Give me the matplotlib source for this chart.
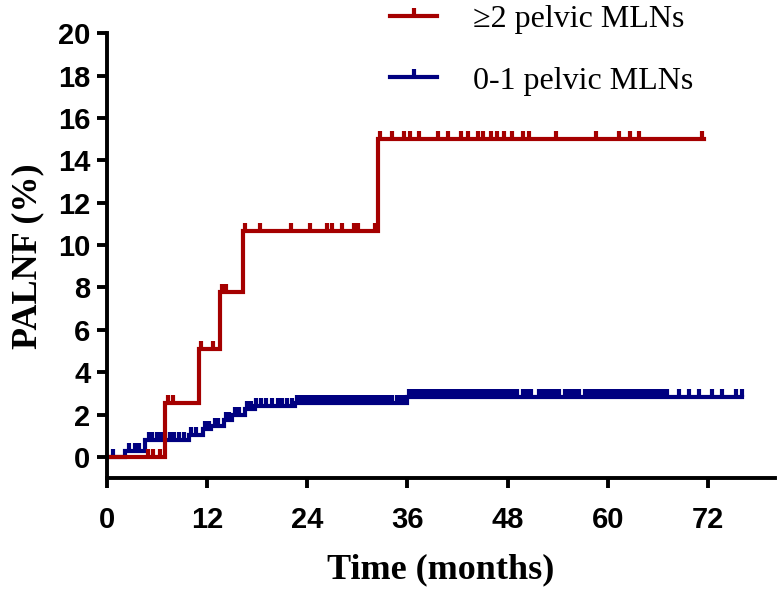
"""Cumulative PALNF by number of pelvic MLNs (step curves with censor ticks)."""
import matplotlib
matplotlib.use("Agg")
import matplotlib.pyplot as plt
from matplotlib.lines import Line2D
import numpy as np

# ---- data ----
red_label = "\u22652 pelvic MLNs"
red_times = [0, 7.0, 11.0, 13.5, 16.3, 32.5, 71.5]
red_levels = [0, 2.55, 5.1, 7.8, 10.65, 15.0, 15.0]
red_censor = [4.9, 5.5, 6.4, 7.3, 7.9, 11.3, 12.7, 13.8, 14.2,
              16.5, 18.3, 22.1, 24.3, 26.3, 27.0, 28.2, 29.6, 30.1, 32.1,
              32.7, 34.2, 35.6, 36.3, 37.4, 39.7, 40.9, 42.4, 43.3, 44.5,
              45.1, 46.0, 46.7, 47.6, 48.5, 49.8, 50.6, 53.8, 58.6, 61.4,
              62.6, 63.7, 71.3]

blue_label = "0-1 pelvic MLNs"
blue_times = [0, 2.2, 4.6, 9.8, 11.5, 12.5, 14.0, 15.0, 16.5, 17.7, 22.5, 35.9, 76.1]
blue_levels = [0, 0.27, 0.8, 1.05, 1.3, 1.45, 1.75, 2.0, 2.25, 2.4, 2.55, 2.85, 2.85]
blue_censor = [0.7, 2.6, 3.3, 3.8,
               5.0, 5.4, 6.0, 6.5, 7.0, 7.5, 8.0, 8.6, 9.2,
               10.1, 10.7, 11.8, 12.2, 12.9, 13.3, 14.3, 14.6, 15.3, 15.8,
               16.8, 17.2, 17.9, 18.5, 19.1, 19.8, 20.5, 21.0, 21.6, 22.2,
               22.8, 23.2, 23.6, 24.0, 24.5, 24.9, 25.3, 25.7, 26.2, 26.6,
               27.0, 27.4, 27.9, 28.3, 28.7, 29.1, 29.6, 30.0, 30.4, 30.8,
               31.3, 31.7, 32.1, 32.5, 33.0, 33.4, 33.8, 34.2, 34.7, 35.1, 35.5,
               36.2, 36.5, 36.9, 37.2, 37.6, 37.9, 38.3, 38.6, 39.0, 39.3,
               39.7, 40.0, 40.4, 40.7, 41.1, 41.4, 41.8, 42.1, 42.5, 42.8,
               43.2, 43.5, 43.9, 44.2, 44.6, 44.9, 45.3, 45.6, 46.0, 46.3,
               46.7, 47.0, 47.4, 47.7, 48.1, 48.4, 48.8, 49.1, 49.8, 50.1,
               50.5, 50.8, 51.8, 52.1, 52.5, 52.8, 53.2, 53.5, 53.9, 54.2,
               54.9, 55.2, 55.6, 55.9, 56.3, 56.6, 57.3, 57.6, 58.0, 58.3,
               58.7, 59.0, 59.4, 59.7, 60.1, 60.4, 60.8, 61.1, 61.5, 61.8,
               62.2, 62.5, 62.9, 63.2, 63.6, 63.9, 64.3, 64.6, 65.0, 65.3,
               65.7, 66.0, 66.4, 66.7, 67.1, 68.5, 69.7, 70.9, 72.5, 73.7,
               75.4, 76.1]

x_ticks = [0, 12, 24, 36, 48, 60, 72]
y_ticks = list(range(0, 21, 2))

RED = "#a50000"
BLUE = "#000080"
TICK = [(0, 0), (0, 1)]  # upward censor mark


def level_at(times, levels, t):
    idx = np.searchsorted(times, t, side="right") - 1
    return np.asarray(levels)[idx]


fig = plt.figure(figsize=(7.81, 5.94), dpi=100)
ax = fig.add_axes([0.137, 0.195, 0.855, 0.749])

for times, levels, censor, color in [
    (blue_times, blue_levels, blue_censor, BLUE),
    (red_times, red_levels, red_censor, RED),
]:
    ax.step(times, levels, where="post", color=color, lw=3.0, solid_joinstyle="miter")
    ax.plot(censor, level_at(times, levels, censor), linestyle="none",
            marker=TICK, markersize=12, mew=3.0, color=color)

ax.set_xlim(0, 80)
ax.set_ylim(-1, 20)
ax.set_xticks(x_ticks)
ax.set_yticks(y_ticks)

for side in ("top", "right"):
    ax.spines[side].set_visible(False)
for side in ("left", "bottom"):
    ax.spines[side].set_linewidth(2.8)
    ax.spines[side].set_capstyle("projecting")

ax.tick_params(width=2.8, length=7, labelsize=21)
ax.tick_params(axis="x", pad=13)
ax.tick_params(axis="y", pad=5)
for lab in ax.get_xticklabels() + ax.get_yticklabels():
    lab.set_fontfamily("Liberation Sans")
    lab.set_fontweight("bold")

ax.set_xlabel("Time (months)", fontfamily="Liberation Serif", fontweight="bold",
              fontsize=26, labelpad=14)
ax.set_ylabel("PALNF (%)", fontfamily="Liberation Serif", fontweight="bold",
              fontsize=26, labelpad=10)

handles = [
    Line2D([], [], color=RED, lw=3.0, marker=TICK, markersize=12, mew=3.0),
    Line2D([], [], color=BLUE, lw=3.0, marker=TICK, markersize=12, mew=3.0),
]
leg = fig.legend(handles, [red_label, blue_label], loc="upper left",
                 bbox_to_anchor=(0.462, 1.04), frameon=False, numpoints=1,
                 handlelength=1.5, handletextpad=1.1, labelspacing=1.0,
                 prop={"family": "Liberation Serif", "size": 23})

fig.savefig("out.png", dpi=100)
